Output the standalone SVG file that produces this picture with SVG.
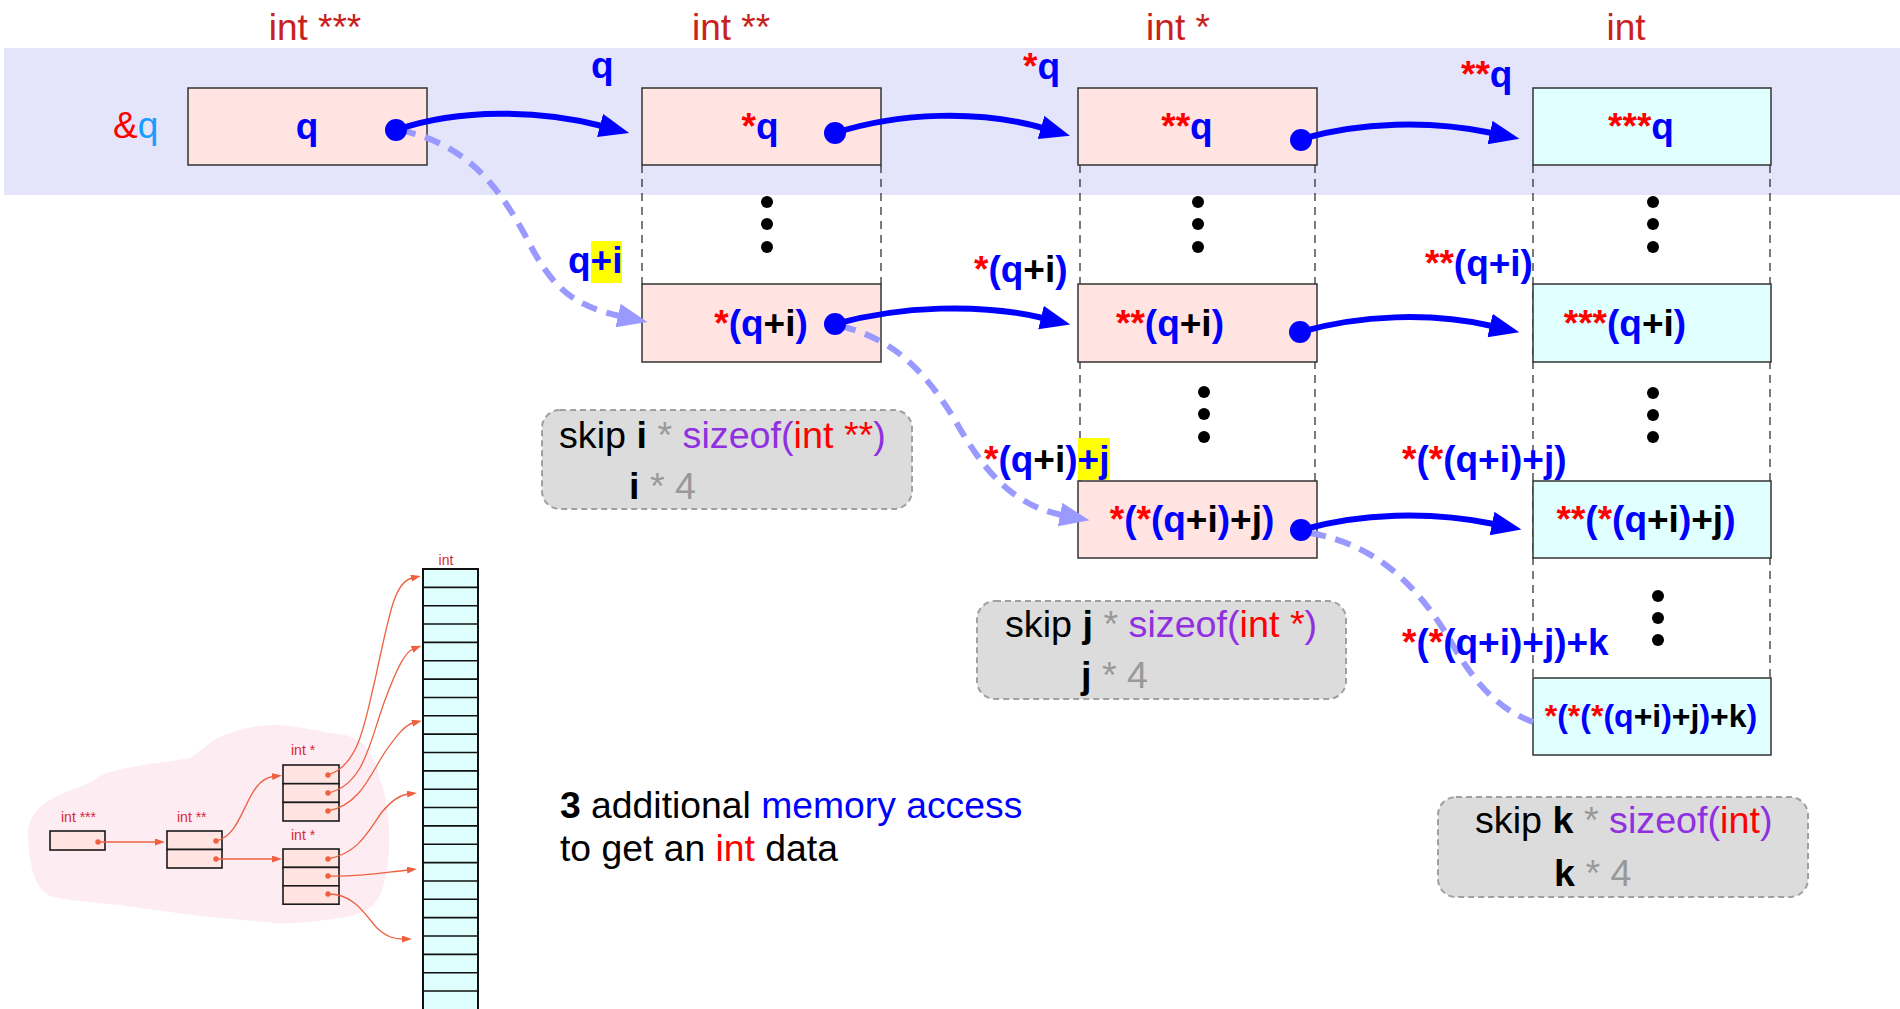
<svg xmlns="http://www.w3.org/2000/svg" width="1900" height="1009" viewBox="0 0 1900 1009">
<style>
text{font-family:"Liberation Sans",Arial,sans-serif;white-space:pre}
.title{font-size:37px;fill:#c9211e;text-anchor:middle}
.lb{font-size:37px;font-weight:bold;fill:#0000ff}
.mid{text-anchor:middle}
.r{fill:#ff0000}.u{fill:#0000ff}.k{fill:#000000}
.box{fill:#ffe4e1;stroke:#333;stroke-width:1.5}
.cbox{fill:#e0ffff;stroke:#333;stroke-width:1.5}
.vd{stroke:#222;stroke-width:1.2;stroke-dasharray:8 6;fill:none}
.arr{stroke:#0000ff;stroke-width:6;fill:none;marker-end:url(#ah)}
.dash{stroke:#9999ff;stroke-width:6;fill:none;stroke-dasharray:16 10}
.dot{fill:#0000ff}
.vdot{fill:#000}
.note{fill:#dcdcdc;stroke:#a0a0a0;stroke-width:2;stroke-dasharray:6 4}
.nt{font-size:37.7px;fill:#000}
.sm{font-size:37.3px;fill:#000}
.g{fill:#999999}.p{fill:#9030e0}
.mb{fill:#ffe4e1;stroke:#1a1a1a;stroke-width:1.6}
.ml{font-size:14px;fill:#d9263a}
.ma{stroke:#ee6040;stroke-width:1.3;fill:none;marker-end:url(#mah)}
.md{fill:#ee6040}
</style>
<defs>
<marker id="ah" markerUnits="userSpaceOnUse" markerWidth="32" markerHeight="26" refX="2" refY="12" orient="auto">
<path d="M0,0 L30,12 L0,24 z" fill="#0000ff"/>
</marker>
<marker id="dah" markerUnits="userSpaceOnUse" markerWidth="32" markerHeight="26" refX="2" refY="12" orient="auto">
<path d="M0,0 L30,12 L0,24 z" fill="#9999ff"/>
</marker>
<marker id="mah" markerUnits="userSpaceOnUse" markerWidth="12" markerHeight="8" refX="1" refY="3.5" orient="auto">
<path d="M0,0 L10,3.5 L0,7 z" fill="#ee6040"/>
</marker>
</defs>

<rect x="4" y="48" width="1896" height="147" fill="#e4e4fb"/>

<g id="titles">
<text class="title" x="315" y="40">int ***</text>
<text class="title" x="731" y="40">int **</text>
<text class="title" x="1178" y="40">int *</text>
<text class="title" x="1626" y="40">int</text>
</g>

<g id="guides">
<line class="vd" x1="642" y1="165" x2="642" y2="284"/>
<line class="vd" x1="881" y1="165" x2="881" y2="284"/>
<line class="vd" x1="1080" y1="165" x2="1080" y2="481"/>
<line class="vd" x1="1315" y1="165" x2="1315" y2="481"/>
<line class="vd" x1="1533" y1="165" x2="1533" y2="678"/>
<line class="vd" x1="1770" y1="165" x2="1770" y2="678"/>
</g>

<g id="ellipses">
<circle class="vdot" cx="767" cy="202" r="6"/><circle class="vdot" cx="767" cy="224" r="6"/><circle class="vdot" cx="767" cy="247" r="6"/>
<circle class="vdot" cx="1198" cy="202" r="6"/><circle class="vdot" cx="1198" cy="224" r="6"/><circle class="vdot" cx="1198" cy="247" r="6"/>
<circle class="vdot" cx="1653" cy="202" r="6"/><circle class="vdot" cx="1653" cy="224" r="6"/><circle class="vdot" cx="1653" cy="247" r="6"/>
<circle class="vdot" cx="1204" cy="392" r="6"/><circle class="vdot" cx="1204" cy="414" r="6"/><circle class="vdot" cx="1204" cy="437" r="6"/>
<circle class="vdot" cx="1653" cy="393" r="6"/><circle class="vdot" cx="1653" cy="415" r="6"/><circle class="vdot" cx="1653" cy="437" r="6"/>
<circle class="vdot" cx="1658" cy="596" r="6"/><circle class="vdot" cx="1658" cy="618" r="6"/><circle class="vdot" cx="1658" cy="640" r="6"/>
</g>

<g id="n_q"><rect class="box" x="188" y="88" width="239" height="77"/>
<text class="lb mid" x="307" y="139">q</text></g>
<g id="n_sq"><rect class="box" x="642" y="88" width="239" height="77"/>
<text class="lb mid" x="760" y="139"><tspan class="r">*</tspan>q</text></g>
<g id="n_sqi"><rect class="box" x="642" y="284" width="239" height="78"/>
<text class="lb mid" x="761" y="336"><tspan class="r">*</tspan>(q<tspan class="k">+i</tspan>)</text></g>
<g id="n_ssq"><rect class="box" x="1078" y="88" width="239" height="77"/>
<text class="lb mid" x="1187" y="139"><tspan class="r">**</tspan>q</text></g>
<g id="n_ssqi"><rect class="box" x="1078" y="284" width="239" height="78"/>
<text class="lb mid" x="1170" y="336"><tspan class="r">**</tspan>(q<tspan class="k">+i</tspan>)</text></g>
<g id="n_sqij"><rect class="box" x="1078" y="481" width="239" height="77"/>
<text class="lb mid" x="1192" y="532"><tspan class="r">*</tspan>(<tspan class="r">*</tspan>(q<tspan class="k">+i</tspan>)<tspan class="k">+j</tspan>)</text></g>
<g id="n_sssq"><rect class="cbox" x="1533" y="88" width="238" height="77"/>
<text class="lb mid" x="1641" y="139"><tspan class="r">***</tspan>q</text></g>
<g id="n_sssqi"><rect class="cbox" x="1533" y="284" width="238" height="78"/>
<text class="lb mid" x="1625" y="336"><tspan class="r">***</tspan>(q<tspan class="k">+i</tspan>)</text></g>
<g id="n_ssqij"><rect class="cbox" x="1533" y="481" width="238" height="77"/>
<text class="lb mid" x="1646" y="532"><tspan class="r">**</tspan>(<tspan class="r">*</tspan>(q<tspan class="k">+i</tspan>)<tspan class="k">+j</tspan>)</text></g>
<g id="n_sqijk"><rect class="cbox" x="1533" y="678" width="238" height="77"/>
<text class="lb mid" x="1651" y="727" style="font-size:32px"><tspan class="r">*</tspan>(<tspan class="r">*</tspan>(<tspan class="r">*</tspan>(q<tspan class="k">+i</tspan>)<tspan class="k">+j</tspan>)<tspan class="k">+k</tspan>)</text></g>

<g id="connectors">
<path class="dash" d="M400,130 C470,145 500,190 525,235 C550,285 570,305 620,316" marker-end="url(#dah)"/>
<path class="dash" d="M840,326 C900,340 930,380 955,420 C980,465 1010,505 1062,515" marker-end="url(#dah)"/>
<path class="dash" d="M1310,533 C1380,545 1420,590 1450,640 C1475,685 1500,710 1533,722"/>
<path class="arr" d="M396,130 C460,108 540,110 602,126"/>
<path class="arr" d="M835,133 C900,112 980,110 1043,128"/>
<path class="arr" d="M1301,139 C1360,122 1430,120 1492,133"/>
<path class="arr" d="M835,324 C900,306 980,303 1043,318"/>
<path class="arr" d="M1300,332 C1360,315 1430,312 1492,326"/>
<path class="arr" d="M1301,530 C1360,513 1430,511 1494,524"/>
<circle class="dot" cx="396" cy="130" r="11"/>
<circle class="dot" cx="835" cy="133" r="11"/>
<circle class="dot" cx="1301" cy="140" r="11"/>
<circle class="dot" cx="835" cy="324" r="11"/>
<circle class="dot" cx="1300" cy="332" r="11"/>
<circle class="dot" cx="1301" cy="530" r="11"/>
</g>

<g id="labels">
<text x="113" y="138" style="font-size:37px"><tspan fill="#ff0000">&amp;</tspan><tspan fill="#1a9cff">q</tspan></text>
<text class="lb" x="591" y="78">q</text>
<text class="lb" x="1023" y="79"><tspan class="r">*</tspan>q</text>
<text class="lb" x="1461" y="87"><tspan class="r">**</tspan>q</text>
<rect x="591" y="241" width="31" height="42" fill="#ffff00"/>
<text class="lb" x="568" y="273">q+i</text>
<text class="lb" x="974" y="282"><tspan class="r">*</tspan>(q<tspan class="k">+i</tspan>)</text>
<text class="lb" x="1425" y="276"><tspan class="r">**</tspan>(q+i)</text>
<rect x="1078" y="438" width="32" height="42" fill="#ffff00"/>
<text class="lb" x="984" y="472"><tspan class="r">*</tspan>(q<tspan class="k">+i</tspan>)+j</text>
<text class="lb" x="1402" y="472"><tspan class="r">*</tspan>(<tspan class="r">*</tspan>(q+i)+j)</text>
<text class="lb" x="1402" y="655"><tspan class="r">*</tspan>(<tspan class="r">*</tspan>(q+i)+j)+k</text>
</g>

<g id="note_i">
<rect class="note" x="542" y="410" width="370" height="99" rx="18"/>
<text class="nt" x="559" y="448">skip <tspan font-weight="bold">i</tspan><tspan class="g"> * </tspan><tspan class="p">sizeof(</tspan><tspan class="r">int **</tspan><tspan class="p">)</tspan></text>
<text class="nt" x="629" y="499"><tspan font-weight="bold">i</tspan><tspan class="g"> * 4</tspan></text>
</g>
<g id="note_j">
<rect class="note" x="977" y="601" width="369" height="98" rx="18"/>
<text class="nt" x="1005" y="637">skip <tspan font-weight="bold">j</tspan><tspan class="g"> * </tspan><tspan class="p">sizeof(</tspan><tspan class="r">int *</tspan><tspan class="p">)</tspan></text>
<text class="nt" x="1081" y="688"><tspan font-weight="bold">j</tspan><tspan class="g"> * 4</tspan></text>
</g>
<g id="note_k">
<rect class="note" x="1438" y="797" width="370" height="100" rx="18"/>
<text class="nt" x="1475" y="833">skip <tspan font-weight="bold">k</tspan><tspan class="g"> * </tspan><tspan class="p">sizeof(</tspan><tspan class="r">int</tspan><tspan class="p">)</tspan></text>
<text class="nt" x="1554" y="886"><tspan font-weight="bold">k</tspan><tspan class="g"> * 4</tspan></text>
</g>

<g id="summary">
<text class="sm" x="560" y="818"><tspan font-weight="bold">3</tspan> additional <tspan class="u">memory access</tspan></text>
<text class="sm" x="560" y="861">to get an <tspan class="r">int</tspan> data</text>
</g>

<g id="mini">
<path d="M28,840 C26,815 40,800 80,787 C95,782 98,775 110,772 C140,764 170,762 190,758 C200,752 210,740 225,735 C245,727 262,725 275,725 C300,726 320,732 345,735 C365,740 375,755 380,780 C392,810 392,860 382,890 C375,910 360,915 340,918 C310,922 290,925 265,922 C240,920 215,917 200,916 C170,912 140,908 120,905 C90,902 60,900 48,895 C32,885 30,860 28,840 z" fill="#fdecf2"/>
<g id="m_col">
<rect x="423" y="569" width="55" height="445" fill="#dfffff" stroke="#111" stroke-width="2"/>
<path d="M423,587.35H478M423,605.7H478M423,624.05H478M423,642.4H478M423,660.75H478M423,679.1H478M423,697.45H478M423,715.8H478M423,734.15H478M423,752.5H478M423,770.85H478M423,789.2H478M423,807.55H478M423,825.9H478M423,844.25H478M423,862.6H478M423,880.95H478M423,899.3H478M423,917.65H478M423,936H478M423,954.35H478M423,972.7H478M423,991.05H478" stroke="#111" stroke-width="1.6"/>
<text class="ml mid" x="446" y="565">int</text>
</g>
<g id="m_p3">
<rect class="mb" x="50" y="831" width="55" height="19"/>
<text class="ml" x="61" y="822">int ***</text>
</g>
<g id="m_p2">
<rect class="mb" x="167" y="831" width="55" height="18.5"/>
<rect class="mb" x="167" y="849.5" width="55" height="18.5"/>
<text class="ml" x="177" y="822">int **</text>
</g>
<g id="m_p1a">
<rect class="mb" x="283" y="765" width="56" height="18.7"/>
<rect class="mb" x="283" y="783.7" width="56" height="18.7"/>
<rect class="mb" x="283" y="802.4" width="56" height="18.6"/>
<text class="ml" x="291" y="755">int *</text>
</g>
<g id="m_p1b">
<rect class="mb" x="283" y="849" width="56" height="18.4"/>
<rect class="mb" x="283" y="867.4" width="56" height="18.4"/>
<rect class="mb" x="283" y="885.8" width="56" height="18.4"/>
<text class="ml" x="291" y="840">int *</text>
</g>
<g id="m_connectors">
<path class="ma" d="M98,842 L156,842"/>
<path class="ma" d="M216,841 C245,835 245,780 273,776.5"/>
<path class="ma" d="M216,859 L273,859"/>
<path class="ma" d="M328,775 C360,765 365,720 375,680 C390,610 395,582 412,578"/>
<path class="ma" d="M328,793 C365,785 370,740 385,700 C397,668 405,652 413,649"/>
<path class="ma" d="M328,811 C360,805 370,775 385,752 C397,735 405,725 413,723"/>
<path class="ma" d="M328,859 C360,853 370,828 382,812 C392,800 400,795 408,794"/>
<path class="ma" d="M328,876 C360,877 380,873 408,870"/>
<path class="ma" d="M328,894 C355,894 365,915 377,928 C388,938 395,939 403,939"/>
<circle class="md" cx="98" cy="842" r="2.7"/>
<circle class="md" cx="216" cy="841" r="2.7"/>
<circle class="md" cx="216" cy="859" r="2.7"/>
<circle class="md" cx="328" cy="775" r="2.7"/>
<circle class="md" cx="328" cy="793" r="2.7"/>
<circle class="md" cx="328" cy="811" r="2.7"/>
<circle class="md" cx="328" cy="859" r="2.7"/>
<circle class="md" cx="328" cy="876" r="2.7"/>
<circle class="md" cx="328" cy="894" r="2.7"/>
</g>
</g>
</svg>
